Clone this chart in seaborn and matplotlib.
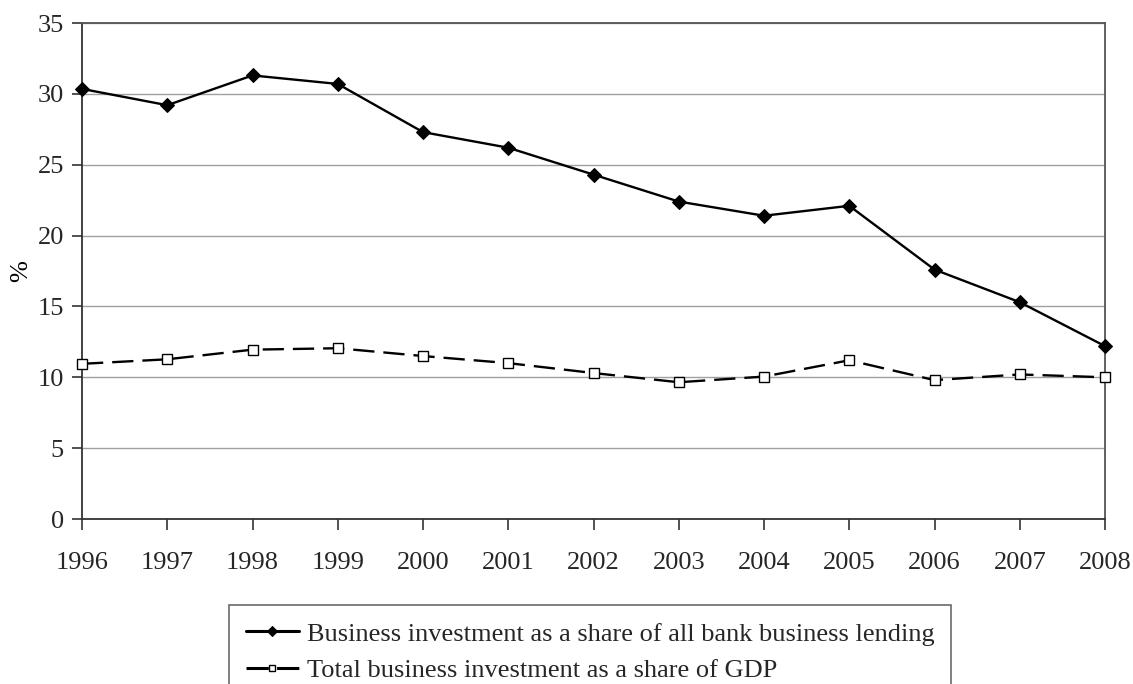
import matplotlib
matplotlib.use("Agg")
import matplotlib.pyplot as plt
import seaborn as sns
import pandas as pd

years = list(range(1996, 2009))
share_of_lending = [30.35, 29.2, 31.3, 30.7, 27.3, 26.2, 24.3, 22.4, 21.4, 22.1, 17.6, 15.3, 12.2]
share_of_gdp = [10.95, 11.27, 11.95, 12.05, 11.5, 11.0, 10.3, 9.65, 10.05, 11.2, 9.8, 10.2, 10.0]
label_lending = "Business investment as a share of all bank business lending"
label_gdp = "Total business investment as a share of GDP"
y_ticks = [0, 5, 10, 15, 20, 25, 30, 35]

sns.set_theme(style="white")
plt.rcParams["font.family"] = ["Liberation Serif", "DejaVu Serif"]
FS = 19

fig = plt.figure(figsize=(11.33, 6.84), dpi=100)
ax = fig.add_axes([82 / 1133, 1 - 519 / 684, (1105 - 82) / 1133, (519 - 23) / 684])

df_lend = pd.DataFrame({"year": years, "value": share_of_lending})
df_gdp = pd.DataFrame({"year": years, "value": share_of_gdp})

sns.lineplot(data=df_lend, x="year", y="value", ax=ax, color="black", lw=1.7,
             marker="D", markersize=7, markerfacecolor="black", markeredgecolor="black",
             label=label_lending, clip_on=False, zorder=4)
sns.lineplot(data=df_gdp, x="year", y="value", ax=ax, color="black", lw=1.7,
             marker="s", markersize=6.5, markerfacecolor="white", markeredgecolor="black",
             markeredgewidth=1.0, dashes=(9, 3.8), label=label_gdp, clip_on=False, zorder=4)

ax.set_xlim(1996, 2008)
ax.set_ylim(0, 35)
ax.set_xticks(years)
ax.set_xticklabels([str(y) for y in years])
ax.set_yticks(y_ticks)
ax.set_xlabel("")
ax.set_ylabel("")
fig.text(21 / 1133, 1 - 271 / 684, "%", rotation=90, ha="center", va="center",
         fontsize=FS, color="black")

ax.yaxis.grid(True, color="#a0a0a0", lw=1.0)
ax.xaxis.grid(False)
for s in ax.spines.values():
    s.set_color("#333333")
    s.set_linewidth(1.3)
ax.spines["top"].set_color("#555555")
ax.spines["right"].set_color("#555555")

ax.tick_params(axis="x", direction="out", length=8, width=1.2, color="#333333",
               labelsize=FS, pad=16, bottom=True)
ax.tick_params(axis="y", direction="out", length=7, width=1.2, color="#333333",
               labelsize=FS, pad=6, left=True)

leg = ax.legend(loc="upper center", bbox_to_anchor=(590 / 1133, 1 - 605 / 684),
                bbox_transform=fig.transFigure, frameon=True, fancybox=False,
                edgecolor="#444444", fontsize=FS, handlelength=2.0, markerscale=0.75,
                handletextpad=0.3, borderpad=0.65, labelspacing=0.5,
                borderaxespad=0)
leg.get_frame().set_linewidth(1.2)
leg_lines = leg.get_lines()
for line in leg_lines:
    line.set_linewidth(2.2)
# dashed key: one dash each side of the marker
leg_lines[1].set_dashes((7.3, 2.7))

fig.savefig("out.png", dpi=100)
